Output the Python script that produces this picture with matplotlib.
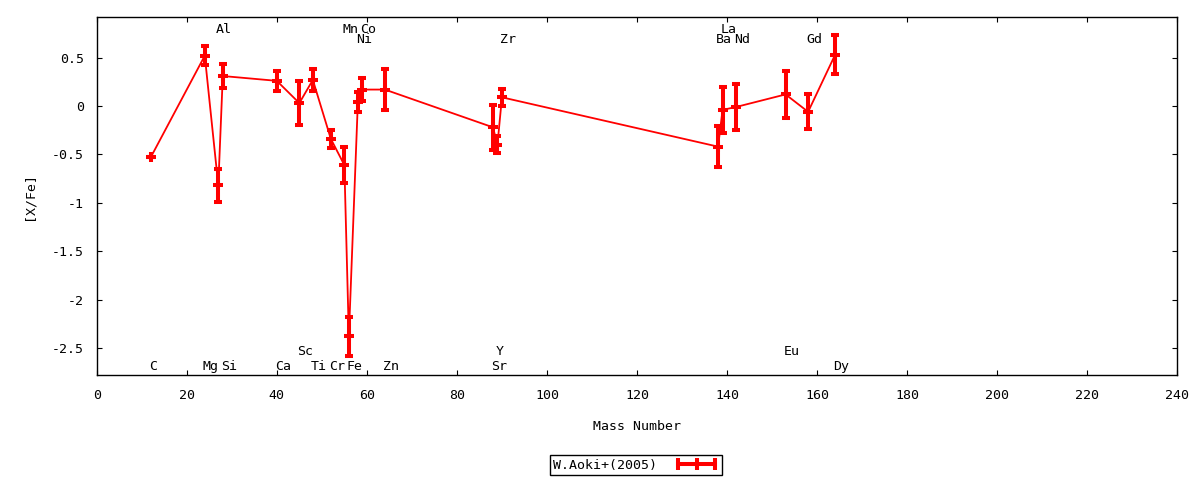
import numpy as np
import matplotlib
matplotlib.use('Agg')
import matplotlib.pyplot as plt
from matplotlib.lines import Line2D
from matplotlib.ticker import FuncFormatter, MultipleLocator

# datos (W.Aoki+ 2005)
elements = ['C', 'Mg', 'Al', 'Si', 'Ca', 'Sc', 'Ti', 'Cr', 'Mn', 'Fe', 'Ni', 'Co',
            'Zn', 'Sr', 'Y', 'Zr', 'Ba', 'La', 'Nd', 'Eu', 'Gd', 'Dy']
mass = [12, 24, 27, 28, 40, 45, 48, 52, 55, 56, 58, 59,
        64, 88, 89, 90, 138, 139, 142, 153, 158, 164]
xfe = [-0.53, 0.52, -0.82, 0.31, 0.26, 0.03, 0.27, -0.34, -0.61, -2.38, 0.04, 0.17,
       0.17, -0.22, -0.40, 0.09, -0.42, -0.04, -0.01, 0.12, -0.06, 0.53]
err = [0.0, 0.10, 0.17, 0.12, 0.10, 0.23, 0.11, 0.09, 0.19, 0.20, 0.10, 0.115,
       0.21, 0.23, 0.09, 0.09, 0.21, 0.24, 0.24, 0.24, 0.18, 0.20]

# fila de cada etiqueta: arriba (t1, t2) o abajo (b1, b2)
label_row = ['b2', 'b2', 't1', 'b2', 'b2', 'b1', 'b2', 'b2', 't1', 'b2', 't2', 't1',
             'b2', 'b2', 'b1', 't2', 't2', 't1', 't2', 'b1', 't2', 'b2']
row_y = {'t1': 0.758, 't2': 0.655, 'b1': -2.576, 'b2': -2.724}

plt.rcParams['font.family'] = 'DejaVu Sans Mono'
plt.rcParams['font.size'] = 9.5
plt.rcParams['axes.unicode_minus'] = False

fig = plt.figure(figsize=(12, 4.8), dpi=100)
ax = fig.add_axes([0.0806, 0.2181, 0.9005, 0.7469])

red = '#ff0000'
ax.plot(mass, xfe, color=red, lw=1.3, zorder=2)
ax.errorbar(mass, xfe, yerr=err, fmt='none', ecolor=red, elinewidth=2.9,
            capsize=3, capthick=2.9, zorder=3)
# el punto central es una cruz, como en gnuplot (pt 1)
ax.plot(mass, xfe, ls='none', marker='+', ms=7.5, mew=2.9, color=red, zorder=3)

# nombres de los elementos
for el, m, r in zip(elements, mass, label_row):
    ax.text(m - 0.45, row_y[r], el, ha='left', va='baseline', fontsize=9.5)

ax.set_xlim(0, 240)
ax.set_ylim(-2.783, 0.922)
ax.xaxis.set_major_locator(MultipleLocator(20))
ax.yaxis.set_major_locator(MultipleLocator(0.5))
ax.yaxis.set_major_formatter(FuncFormatter(lambda v, p: '%g' % round(v, 2)))
ax.tick_params(direction='in', length=3.3, width=0.8, top=True, right=True,
               colors='black', labelsize=9.5)
ax.tick_params(axis='x', pad=10)
ax.tick_params(axis='y', pad=9)
for s in ax.spines.values():
    s.set_linewidth(1.0)

ax.set_xlabel('Mass Number', fontsize=9.5, labelpad=13)
ax.set_ylabel('[X/Fe]', fontsize=9.5, labelpad=12)

handle = Line2D([], [], color=red, lw=2.9, marker='|', ms=8, mew=2.9)
leg = fig.legend([handle], ['W.Aoki+(2005)'], loc='center',
                 bbox_to_anchor=(0.53, 1 - 465 / 480), numpoints=3,
                 markerfirst=False, fancybox=False, framealpha=1,
                 edgecolor='black', handlelength=3.4, handletextpad=1.3,
                 borderpad=0.25, borderaxespad=0, fontsize=9.5)
leg.get_frame().set_linewidth(1.0)

fig.savefig('out.png', dpi=100)
